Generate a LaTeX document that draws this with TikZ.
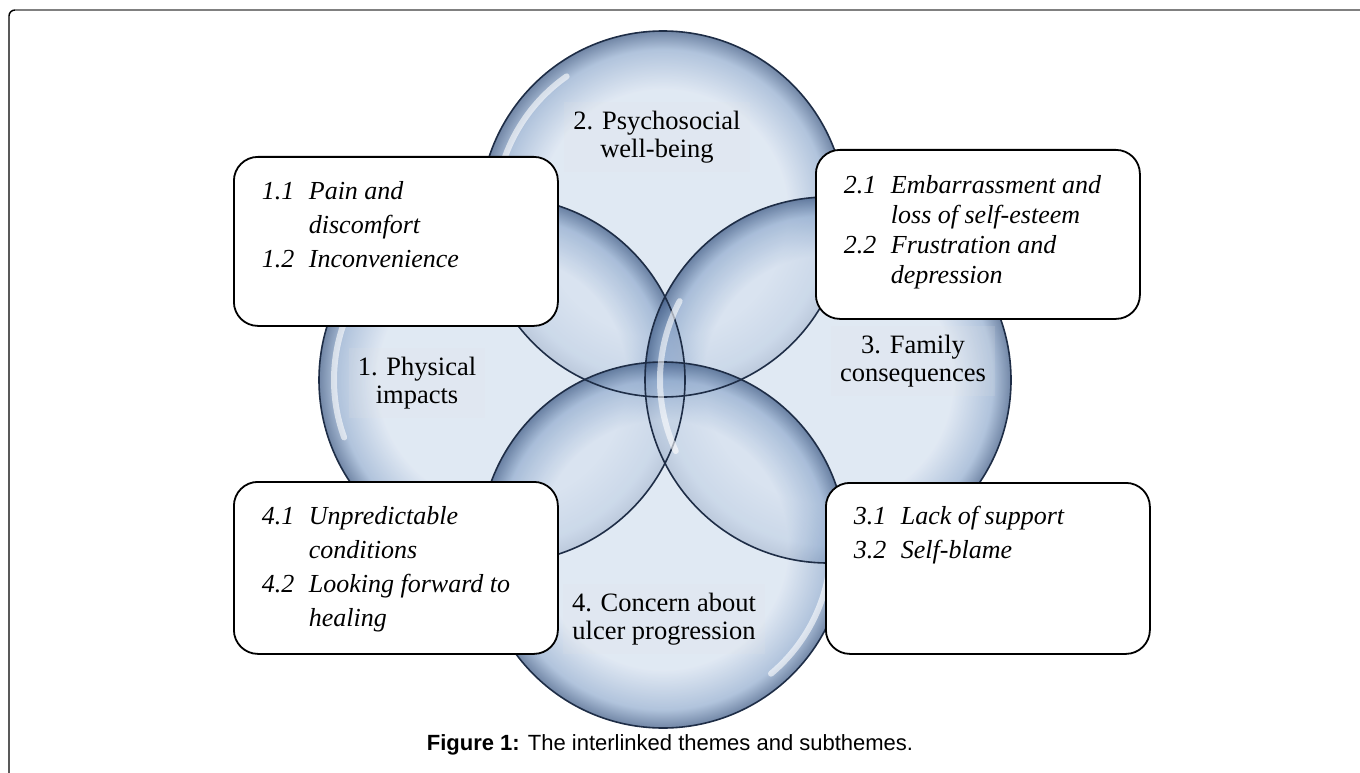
\documentclass[tikz,border=0pt]{standalone}
\usepackage{fontspec}
\setmainfont{Liberation Serif}
\setsansfont{Liberation Sans}
\usepackage{xcolor}

\definecolor{bubcore}{RGB}{214,225,239}
\definecolor{bubmid}{RGB}{150,175,208}
\definecolor{bubrim}{RGB}{66,94,136}
\definecolor{bubline}{RGB}{30,45,70}
\definecolor{framegray}{RGB}{128,128,128}
\pgfdeclareradialshading{bubble}{\pgfpoint{0bp}{0bp}}{color(0bp)=(bubcore); color(17bp)=(bubcore); color(22.5bp)=(bubmid); color(25bp)=(bubrim); color(50bp)=(bubrim)}

\begin{document}
\begin{tikzpicture}[x=1pt,y=-1pt,
    theme/.style={align=center,font=\fontsize{26.5}{28}\selectfont,fill=gray!20,fill opacity=0.15,text opacity=1,inner sep=9pt},
    subbox/.style={draw,line width=1.8pt,rounded corners=24pt,fill=white,anchor=north west,inner xsep=28pt,inner ysep=0pt,font=\fontsize{26}{34}\selectfont\itshape},
    glare/.style={white,line width=6pt,line cap=round,opacity=0.6}]
        \useasboundingbox (0,0) rectangle (1360,773);
        % page frame
        \draw[line width=1.4pt] (9,773) -- (9,16) arc[start angle=180,end angle=270,radius=6];
        \draw[framegray,line width=1.4pt] (15,10) -- (1360,10);
        % the four bubbles
        \coordinate (cT) at (663,214);
        \coordinate (cL) at (502,380);
        \coordinate (cR) at (828,380);
        \coordinate (cB) at (663,545);
        \foreach \c in {cT,cL,cR,cB}
            \shade[shading=bubble,fill opacity=0.75] (\c) circle[radius=183];
        \foreach \c in {cT,cL,cR,cB}
            \draw[bubline,line width=1.6pt] (\c) circle[radius=183];
        \draw[glare] (cT) ++(185:168) arc[start angle=185,end angle=235,radius=168];
        \draw[glare] (cL) ++(160:168) arc[start angle=160,end angle=205,radius=168];
        \draw[glare] (cR) ++(155:168) arc[start angle=155,end angle=208,radius=168];
        \draw[glare] (cB) ++(10:168) arc[start angle=10,end angle=50,radius=168];
        % themes
        \node[theme] (th2) at (657,137) {2. Psychosocial\\well-being};
        \node[theme] (th1) at (417,383) {1. Physical\\impacts};
        \node[theme] (th3) at (913,361) {3. Family\\consequences};
        \node[theme] (th4) at (664,619) {4. Concern about\\ulcer progression};
        % subthemes
        \node[subbox,text height=43pt,text depth=126pt] (sub1) at (233,156)
            {\begin{tabular}[t]{@{}p{47pt}@{}p{221pt}@{}}1.1 & Pain and\\ & discomfort\\ 1.2 & Inconvenience\end{tabular}};
        \node[subbox,font=\fontsize{26}{30}\selectfont\itshape,text height=44pt,text depth=125pt] (sub2) at (815,149)
            {\begin{tabular}[t]{@{}p{47pt}@{}p{221pt}@{}}2.1 & Embarrassment and\\ & loss of self-esteem\\ 2.2 & Frustration and\\ & depression\end{tabular}};
        \node[subbox,text height=42pt,text depth=129pt] (sub3) at (825,482)
            {\begin{tabular}[t]{@{}p{47pt}@{}p{221pt}@{}}3.1 & Lack of support\\ 3.2 & Self-blame\end{tabular}};
        \node[subbox,text height=43pt,text depth=129pt] (sub4) at (233,481)
            {\begin{tabular}[t]{@{}p{47pt}@{}p{221pt}@{}}4.1 & Unpredictable\\ & conditions\\ 4.2 & Looking forward to\\ & healing\end{tabular}};
        % caption
        \node[font=\sffamily\fontsize{22}{26}\selectfont,anchor=base] (caption) at (670,750)
            {\textbf{Figure 1:} The interlinked themes and subthemes.};
\end{tikzpicture}
\end{document}
